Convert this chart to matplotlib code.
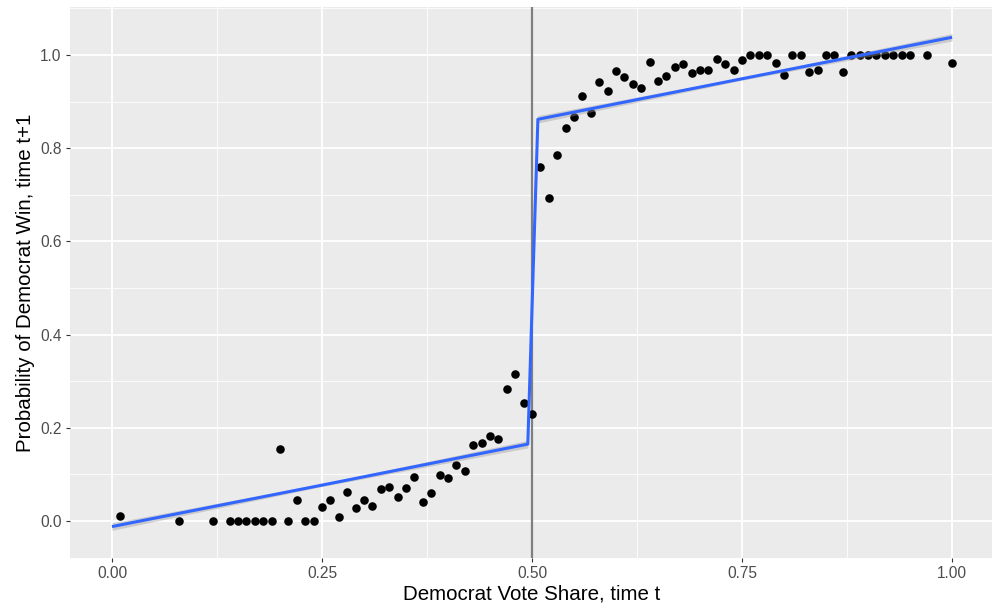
import numpy as np
from matplotlib import pyplot as plt
from matplotlib.ticker import MultipleLocator

# binned means: democrat vote share (t) vs prob. of democrat win (t+1)
share = [0.01, 0.08, 0.12, 0.14, 0.15, 0.16, 0.17, 0.18, 0.19, 0.20,
         0.21, 0.22, 0.23, 0.24, 0.25, 0.26, 0.27, 0.28, 0.29, 0.30,
         0.31, 0.32, 0.33, 0.34, 0.35, 0.36, 0.37, 0.38, 0.39, 0.40,
         0.41, 0.42, 0.43, 0.44, 0.45, 0.46, 0.47, 0.48, 0.49, 0.50,
         0.51, 0.52, 0.53, 0.54, 0.55, 0.56, 0.57, 0.58, 0.59, 0.60,
         0.61, 0.62, 0.63, 0.64, 0.65, 0.66, 0.67, 0.68, 0.69, 0.70,
         0.71, 0.72, 0.73, 0.74, 0.75, 0.76, 0.77, 0.78, 0.79, 0.80,
         0.81, 0.82, 0.83, 0.84, 0.85, 0.86, 0.87, 0.88, 0.89, 0.90,
         0.91, 0.92, 0.93, 0.94, 0.95, 0.97, 1.00]
win = [0.011, 0.0, 0.0, 0.0, 0.0, 0.0, 0.0, 0.0, 0.0, 0.155,
       0.0, 0.045, 0.0, 0.0, 0.029, 0.045, 0.008, 0.062, 0.027, 0.044,
       0.033, 0.069, 0.072, 0.051, 0.070, 0.095, 0.041, 0.061, 0.098, 0.092,
       0.121, 0.107, 0.163, 0.167, 0.182, 0.177, 0.284, 0.315, 0.253, 0.229,
       0.760, 0.693, 0.785, 0.843, 0.866, 0.911, 0.876, 0.941, 0.923, 0.966,
       0.953, 0.938, 0.929, 0.986, 0.945, 0.955, 0.974, 0.981, 0.962, 0.968,
       0.968, 0.991, 0.980, 0.968, 0.989, 1.0, 1.0, 1.0, 0.982, 0.957,
       1.0, 1.0, 0.963, 0.968, 1.0, 1.0, 0.963, 1.0, 1.0, 1.0,
       1.0, 1.0, 1.0, 1.0, 1.0, 1.0, 0.982]

# fitted line (lm with a jump at 0.5) and its standard error band
fit_x = [0.0, 0.25, 0.495, 0.507, 0.75, 1.0]
fit_y = [-0.012, 0.077, 0.165, 0.862, 0.949, 1.038]
fit_se = [0.008, 0.003, 0.008, 0.008, 0.003, 0.008]

cutoff = 0.5

fig = plt.figure(figsize=(9.92, 6.08), dpi=100)
ax = fig.add_axes([70/992, 1 - 558/608, (994 - 70)/992, (558 - 7)/608])
ax.set_facecolor('#EBEBEB')
for s in ax.spines.values():
    s.set_visible(False)

ax.xaxis.set_major_locator(MultipleLocator(0.25))
ax.xaxis.set_minor_locator(MultipleLocator(0.125))
ax.yaxis.set_major_locator(MultipleLocator(0.2))
ax.yaxis.set_minor_locator(MultipleLocator(0.1))
ax.grid(which='major', color='white', lw=1.3)
ax.grid(which='minor', color='white', lw=0.6)
ax.set_axisbelow(True)

ax.axvline(cutoff, color='#7F7F7F', lw=1.6, zorder=2)
ax.scatter(share, win, s=38, color='black', zorder=3, linewidths=0)

fx = np.array(fit_x)
fy = np.array(fit_y)
fs = np.array(fit_se)
ax.fill_between(fx, fy - fs, fy + fs, color='#999999', alpha=0.4, lw=0, zorder=3)
ax.plot(fx, fy, color='#3366FF', lw=2.2, zorder=4, solid_capstyle='butt')

ax.set_xlim(-0.05, 1.05)
ax.set_ylim(-0.0794, 1.103)

ax.set_xticks([0.0, 0.25, 0.5, 0.75, 1.0])
ax.set_xticklabels(['0.00', '0.25', '0.50', '0.75', '1.00'])
ax.set_yticks([0.0, 0.2, 0.4, 0.6, 0.8, 1.0])
ax.set_yticklabels(['0.0', '0.2', '0.4', '0.6', '0.8', '1.0'])
ax.tick_params(which='major', length=3, width=0.8, color='#333333',
               labelcolor='#4D4D4D', labelsize=11.2, pad=3)
ax.tick_params(which='minor', length=0)
for lab in ax.get_xticklabels() + ax.get_yticklabels():
    lab.set_family('Liberation Sans')

ax.set_xlabel('Democrat Vote Share, time t', fontsize=14.8,
              family='Liberation Sans', labelpad=2)
ax.set_ylabel('Probability of Democrat Win, time t+1', fontsize=14.8,
              family='Liberation Sans', labelpad=4)

plt.savefig('out.png', dpi=100)
